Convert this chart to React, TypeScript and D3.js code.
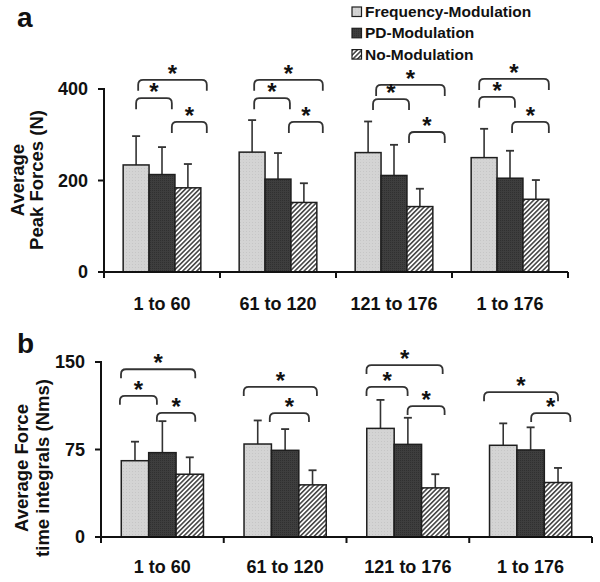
import React from "react";
import * as d3 from "d3";

const categories = ["1 to 60", "61 to 120", "121 to 176", "1 to 176"];
const series = ["Frequency-Modulation", "PD-Modulation", "No-Modulation"];

// Panel a: average peak forces (N)
const peakFreq = [234, 262, 261, 250];
const peakPD = [213, 203, 211, 205];
const peakNo = [184, 152, 143, 159];
const peakFreqSD = [63, 70, 68, 63];
const peakPDSD = [60, 57, 67, 60];
const peakNoSD = [52, 42, 39, 42];
const peakTicks = [0, 200, 400];

// Panel b: average force time integrals (Nms)
const ftiFreq = [65.4, 79.7, 93.1, 78.6];
const ftiPD = [72.3, 74.3, 79.4, 74.6];
const ftiNo = [53.8, 44.7, 42.1, 46.7];
const ftiFreqSD = [16.3, 20.2, 24.4, 18.8];
const ftiPDSD = [27, 18.2, 22.8, 19.4];
const ftiNoSD = [14.5, 12.5, 11.7, 12.5];
const ftiTicks = [0, 75, 150];

// significance brackets: category, from/to (in bar units from first bar centre), level (data units)
const peakBrackets = [
  { cat: 0, from: 0.08, to: 2.73, level: 420 },
  { cat: 0, from: 0.0, to: 1.38, level: 380 },
  { cat: 0, from: 1.38, to: 2.73, level: 328 },
  { cat: 1, from: 0.08, to: 2.73, level: 420 },
  { cat: 1, from: 0.08, to: 1.46, level: 380 },
  { cat: 1, from: 1.42, to: 2.73, level: 328 },
  { cat: 2, from: 0.31, to: 2.96, level: 409 },
  { cat: 2, from: 0.19, to: 1.58, level: 378 },
  { cat: 2, from: 1.58, to: 2.96, level: 306 },
  { cat: 3, from: -0.19, to: 2.5, level: 422 },
  { cat: 3, from: -0.19, to: 1.19, level: 383 },
  { cat: 3, from: 1.08, to: 2.5, level: 328 },
];
const ftiBrackets = [
  { cat: 0, from: -0.51, to: 2.2, level: 143.8 },
  { cat: 0, from: -0.55, to: 0.8, level: 121 },
  { cat: 0, from: 0.8, to: 2.2, level: 106.4 },
  { cat: 1, from: -0.51, to: 2.16, level: 128.6 },
  { cat: 1, from: 0.44, to: 1.87, level: 106.2 },
  { cat: 2, from: -0.51, to: 2.27, level: 147.4 },
  { cat: 2, from: -0.51, to: 0.99, level: 128.6 },
  { cat: 2, from: 0.99, to: 2.34, level: 112.2 },
  { cat: 3, from: -0.7, to: 2.0, level: 124.1 },
  { cat: 3, from: 1.02, to: 2.45, level: 106.2 },
];

const FONT = "'Liberation Sans', Arial, Helvetica, sans-serif";
const fills = ["url(#freqFill)", "url(#pdFill)", "url(#hatchFill)"];
const INK = "#1e1e1e";

type Bracket = { cat: number; from: number; to: number; level: number };

function Panel(props: {
  letter: string;
  letterY: number;
  titleLines: string[];
  titleX: number[];
  titleY: number;
  means: number[][];
  sds: number[][];
  ticks: number[];
  xRange: [number, number];
  yRange: [number, number];
  labelY: number;
  brackets: Bracket[];
  drop: number;
}) {
  const { means, sds, ticks, xRange, yRange } = props;
  const x = d3.scaleBand<string>().domain(categories).range(xRange).padding(0);
  const xs = d3
    .scaleBand<string>()
    .domain(series)
    .range([0, x.bandwidth()])
    .paddingInner(0)
    .paddingOuter(0.74);
  const y = d3
    .scaleLinear()
    .domain([0, ticks[ticks.length - 1]])
    .range(yRange);
  const bw = xs.bandwidth();
  const x0 = xRange[0];
  const yBase = y(0);
  const boundaries = [...categories.map((c) => x(c)!), xRange[1]];

  return (
    <g>
      <text x={17} y={props.letterY} fontFamily={FONT} fontWeight="bold" fontSize={28} fill="#111">
        {props.letter}
      </text>
      {props.titleLines.map((t, i) => (
        <text
          key={i}
          transform={`translate(${props.titleX[i]},${props.titleY}) rotate(-90)`}
          textAnchor="middle"
          fontFamily={FONT}
          fontWeight="bold"
          fontSize={18.5}
          fill="#111"
        >
          {t}
        </text>
      ))}
      {/* bars */}
      {categories.map((c, ci) =>
        series.map((s, si) => {
          const bx = x(c)! + xs(s)!;
          const v = means[si][ci];
          const top = y(v);
          const et = y(v + sds[si][ci]);
          const cx = bx + bw / 2;
          return (
            <g key={c + s}>
              <line x1={cx} x2={cx} y1={top} y2={et} stroke="#333" strokeWidth={1.6} />
              <line x1={cx - 4} x2={cx + 4} y1={et} y2={et} stroke="#333" strokeWidth={1.8} />
              <rect
                x={bx}
                y={top}
                width={bw}
                height={yBase - top}
                fill={fills[si]}
                stroke={INK}
                strokeWidth={1.5}
              />
            </g>
          );
        })
      )}
      {/* brackets */}
      {props.brackets.map((b, i) => {
        const c0 = x(categories[b.cat])! + xs(series[0])! + bw / 2;
        const x1 = c0 + b.from * bw;
        const x2 = c0 + b.to * bw;
        const yy = y(b.level);
        const r = 5;
        const d = `M${x1},${yy + props.drop} L${x1},${yy + r} Q${x1},${yy} ${x1 + r},${yy} L${x2 - r},${yy} Q${x2},${yy} ${x2},${yy + r} L${x2},${yy + props.drop}`;
        return (
          <g key={i}>
            <path d={d} fill="none" stroke="#333" strokeWidth={1.8} />
            <text
              x={(x1 + x2) / 2}
              y={yy + 2}
              textAnchor="middle"
              fontFamily={FONT}
              fontWeight="bold"
              fontSize={24}
              fill="#111"
            >
              *
            </text>
          </g>
        );
      })}
      {/* y axis */}
      <line x1={x0} x2={x0} y1={y(ticks[ticks.length - 1]) - 1} y2={yBase + 6} stroke="#111" strokeWidth={2} />
      {ticks.map((t) => (
        <g key={t}>
          <line x1={x0 - 6} x2={x0} y1={y(t)} y2={y(t)} stroke="#111" strokeWidth={2} />
          <text
            x={x0 - 16}
            y={y(t)}
            dy="0.36em"
            textAnchor="end"
            fontFamily={FONT}
            fontWeight="bold"
            fontSize={18}
            fill="#111"
          >
            {t}
          </text>
        </g>
      ))}
      {/* x axis */}
      <line x1={x0 - 6} x2={xRange[1]} y1={yBase} y2={yBase} stroke="#111" strokeWidth={2} />
      {boundaries.map((bx, i) => (
        <line key={i} x1={bx} x2={bx} y1={yBase} y2={yBase + 6} stroke="#111" strokeWidth={2} />
      ))}
      {categories.map((c) => (
        <text
          key={c}
          x={x(c)! + x.bandwidth() / 2}
          y={props.labelY}
          textAnchor="middle"
          fontFamily={FONT}
          fontWeight="bold"
          fontSize={18}
          fill="#111"
        >
          {c}
        </text>
      ))}
    </g>
  );
}

export default function App() {
  return (
    <svg
      width={600}
      height={582}
      style={{ position: "absolute", left: 0, top: 0, background: "#fff" }}
    >
      <defs>
        <pattern id="freqFill" patternUnits="userSpaceOnUse" width={3} height={3}>
          <rect width={3} height={3} fill="#d4d4d4" />
          <rect width={1} height={1} fill="#c6c6c6" />
        </pattern>
        <pattern id="pdFill" patternUnits="userSpaceOnUse" width={2} height={2}>
          <rect width={2} height={2} fill="#3e3e3e" />
          <rect width={1} height={1} fill="#303030" />
        </pattern>
        <pattern
          id="hatchFill"
          patternUnits="userSpaceOnUse"
          width={3.3}
          height={3.3}
          patternTransform="rotate(45)"
        >
          <rect width={3.3} height={3.3} fill="#fff" />
          <line x1={0.8} x2={0.8} y1={0} y2={3.3} stroke="#3a3a3a" strokeWidth={1.5} />
        </pattern>
      </defs>
      <rect width={600} height={582} fill="#fff" />
      <Panel
        letter="a"
        letterY={27}
        titleLines={["Average", "Peak Forces (N)"]}
        titleX={[24, 43]}
        titleY={180}
        means={[peakFreq, peakPD, peakNo]}
        sds={[peakFreqSD, peakPDSD, peakNoSD]}
        ticks={peakTicks}
        xRange={[104, 568]}
        yRange={[272, 89]}
        labelY={310}
        brackets={peakBrackets}
        drop={11}
      />
      <Panel
        letter="b"
        letterY={353}
        titleLines={["Average Force", "time integrals (Nms)"]}
        titleX={[28, 49]}
        titleY={468}
        means={[ftiFreq, ftiPD, ftiNo]}
        sds={[ftiFreqSD, ftiPDSD, ftiNoSD]}
        ticks={ftiTicks}
        xRange={[101, 592]}
        yRange={[537, 362]}
        labelY={573}
        brackets={ftiBrackets}
        drop={9}
      />
      {/* legend */}
      {series.map((s, i) => (
        <g key={s} transform={`translate(352,${11.5 + i * 21.3})`}>
          <rect x={0} y={-4.5} width={9.5} height={9.5} fill={fills[i]} stroke={INK} strokeWidth={1.2} />
          <text x={13} y={0} dy="0.36em" fontFamily={FONT} fontWeight="bold" fontSize={15.5} fill="#111">
            {s}
          </text>
        </g>
      ))}
    </svg>
  );
}
